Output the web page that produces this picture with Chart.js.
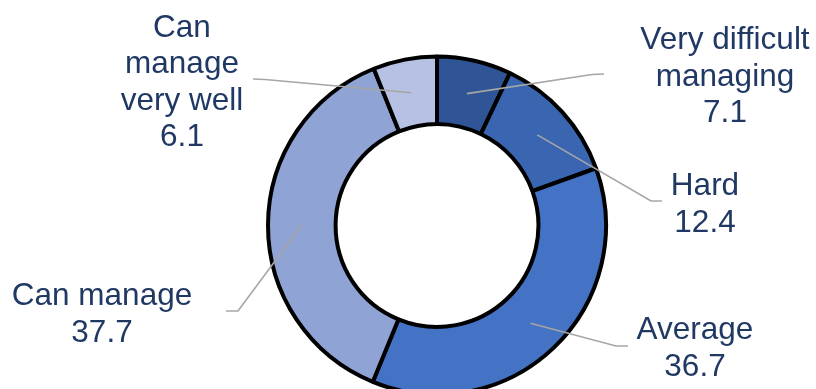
<!DOCTYPE html>
<html>
<head>
<meta charset="utf-8">
<script src="https://cdn.jsdelivr.net/npm/chart.js@4"></script>
<style>
  html, body { margin: 0; padding: 0; background: #fff; overflow: hidden; }
  canvas { display: block; }
</style>
</head>
<body>
<canvas id="ring-chart" width="816" height="389"></canvas>
<script>
// categories (with their line breaks) and shares in percent
const categories = [
    ['Very difficult', 'managing'],
    ['Hard'],
    ['Average'],
    ['Can manage'],
    ['Can', 'manage', 'very well']
];
const shares = [7.1, 12.4, 36.7, 37.7, 6.1];
const sliceColors = ['#2F5597', '#3A65B0', '#4472C4', '#8FA3D5', '#B6C1E3'];

// where each label sits: text centre / first baseline, and the leader's elbow and end
const labelSpots = [
    { x: 725, y: 49,   knee: [592, 74.5], end: [604, 74] },
    { x: 705, y: 195,  knee: [651, 201],  end: [662, 201] },
    { x: 695, y: 339,  knee: [616, 346],  end: [628, 346] },
    { x: 102, y: 305,  knee: [238, 311],  end: [226, 311] },
    { x: 182, y: 36.5, knee: [265, 79.5], end: [253, 79] }
];

const outsideLabels = {
    id: 'outsideLabels',
    afterDatasetsDraw(chart) {
        const ctx = chart.ctx;
        const arcs = chart.getDatasetMeta(0).data;
        ctx.save();
        arcs.forEach((arc, i) => {
            const spot = labelSpots[i];
            const p = arc.getProps(['x', 'y', 'startAngle', 'endAngle', 'innerRadius', 'outerRadius'], true);
            const mid = (p.startAngle + p.endAngle) / 2;
            const r = (p.innerRadius + p.outerRadius) / 2;

            // leader line from the middle of the slice
            ctx.strokeStyle = '#A6A6A6';
            ctx.lineWidth = 1.6;
            ctx.beginPath();
            ctx.moveTo(p.x + Math.cos(mid) * r, p.y + Math.sin(mid) * r);
            ctx.lineTo(spot.knee[0], spot.knee[1]);
            ctx.lineTo(spot.end[0], spot.end[1]);
            ctx.stroke();

            // label lines plus the value
            const lines = chart.data.labels[i].concat(shares[i].toFixed(1));
            ctx.fillStyle = '#203864';
            ctx.font = '31.5px "Liberation Sans", Arial, sans-serif';
            ctx.textAlign = 'center';
            ctx.textBaseline = 'alphabetic';
            lines.forEach((line, j) => {
                ctx.fillText(line, spot.x, spot.y + j * 36.5);
            });
        });
        ctx.restore();
    }
};

const ctx = document.getElementById('ring-chart').getContext('2d');

new Chart(ctx, {
    type: 'doughnut',
    data: {
        labels: categories,
        datasets: [{
            data: shares,
            backgroundColor: sliceColors,
            borderColor: '#000000',
            borderWidth: 4,
            clip: false
        }]
    },
    options: {
        responsive: false,
        animation: false,
        radius: 169,
        cutout: '60%',
        layout: {
            padding: { left: 58, right: 0, top: 62, bottom: 0 }
        },
        plugins: {
            legend: { display: false },
            tooltip: { enabled: false }
        }
    },
    plugins: [outsideLabels]
});
</script>
</body>
</html>
